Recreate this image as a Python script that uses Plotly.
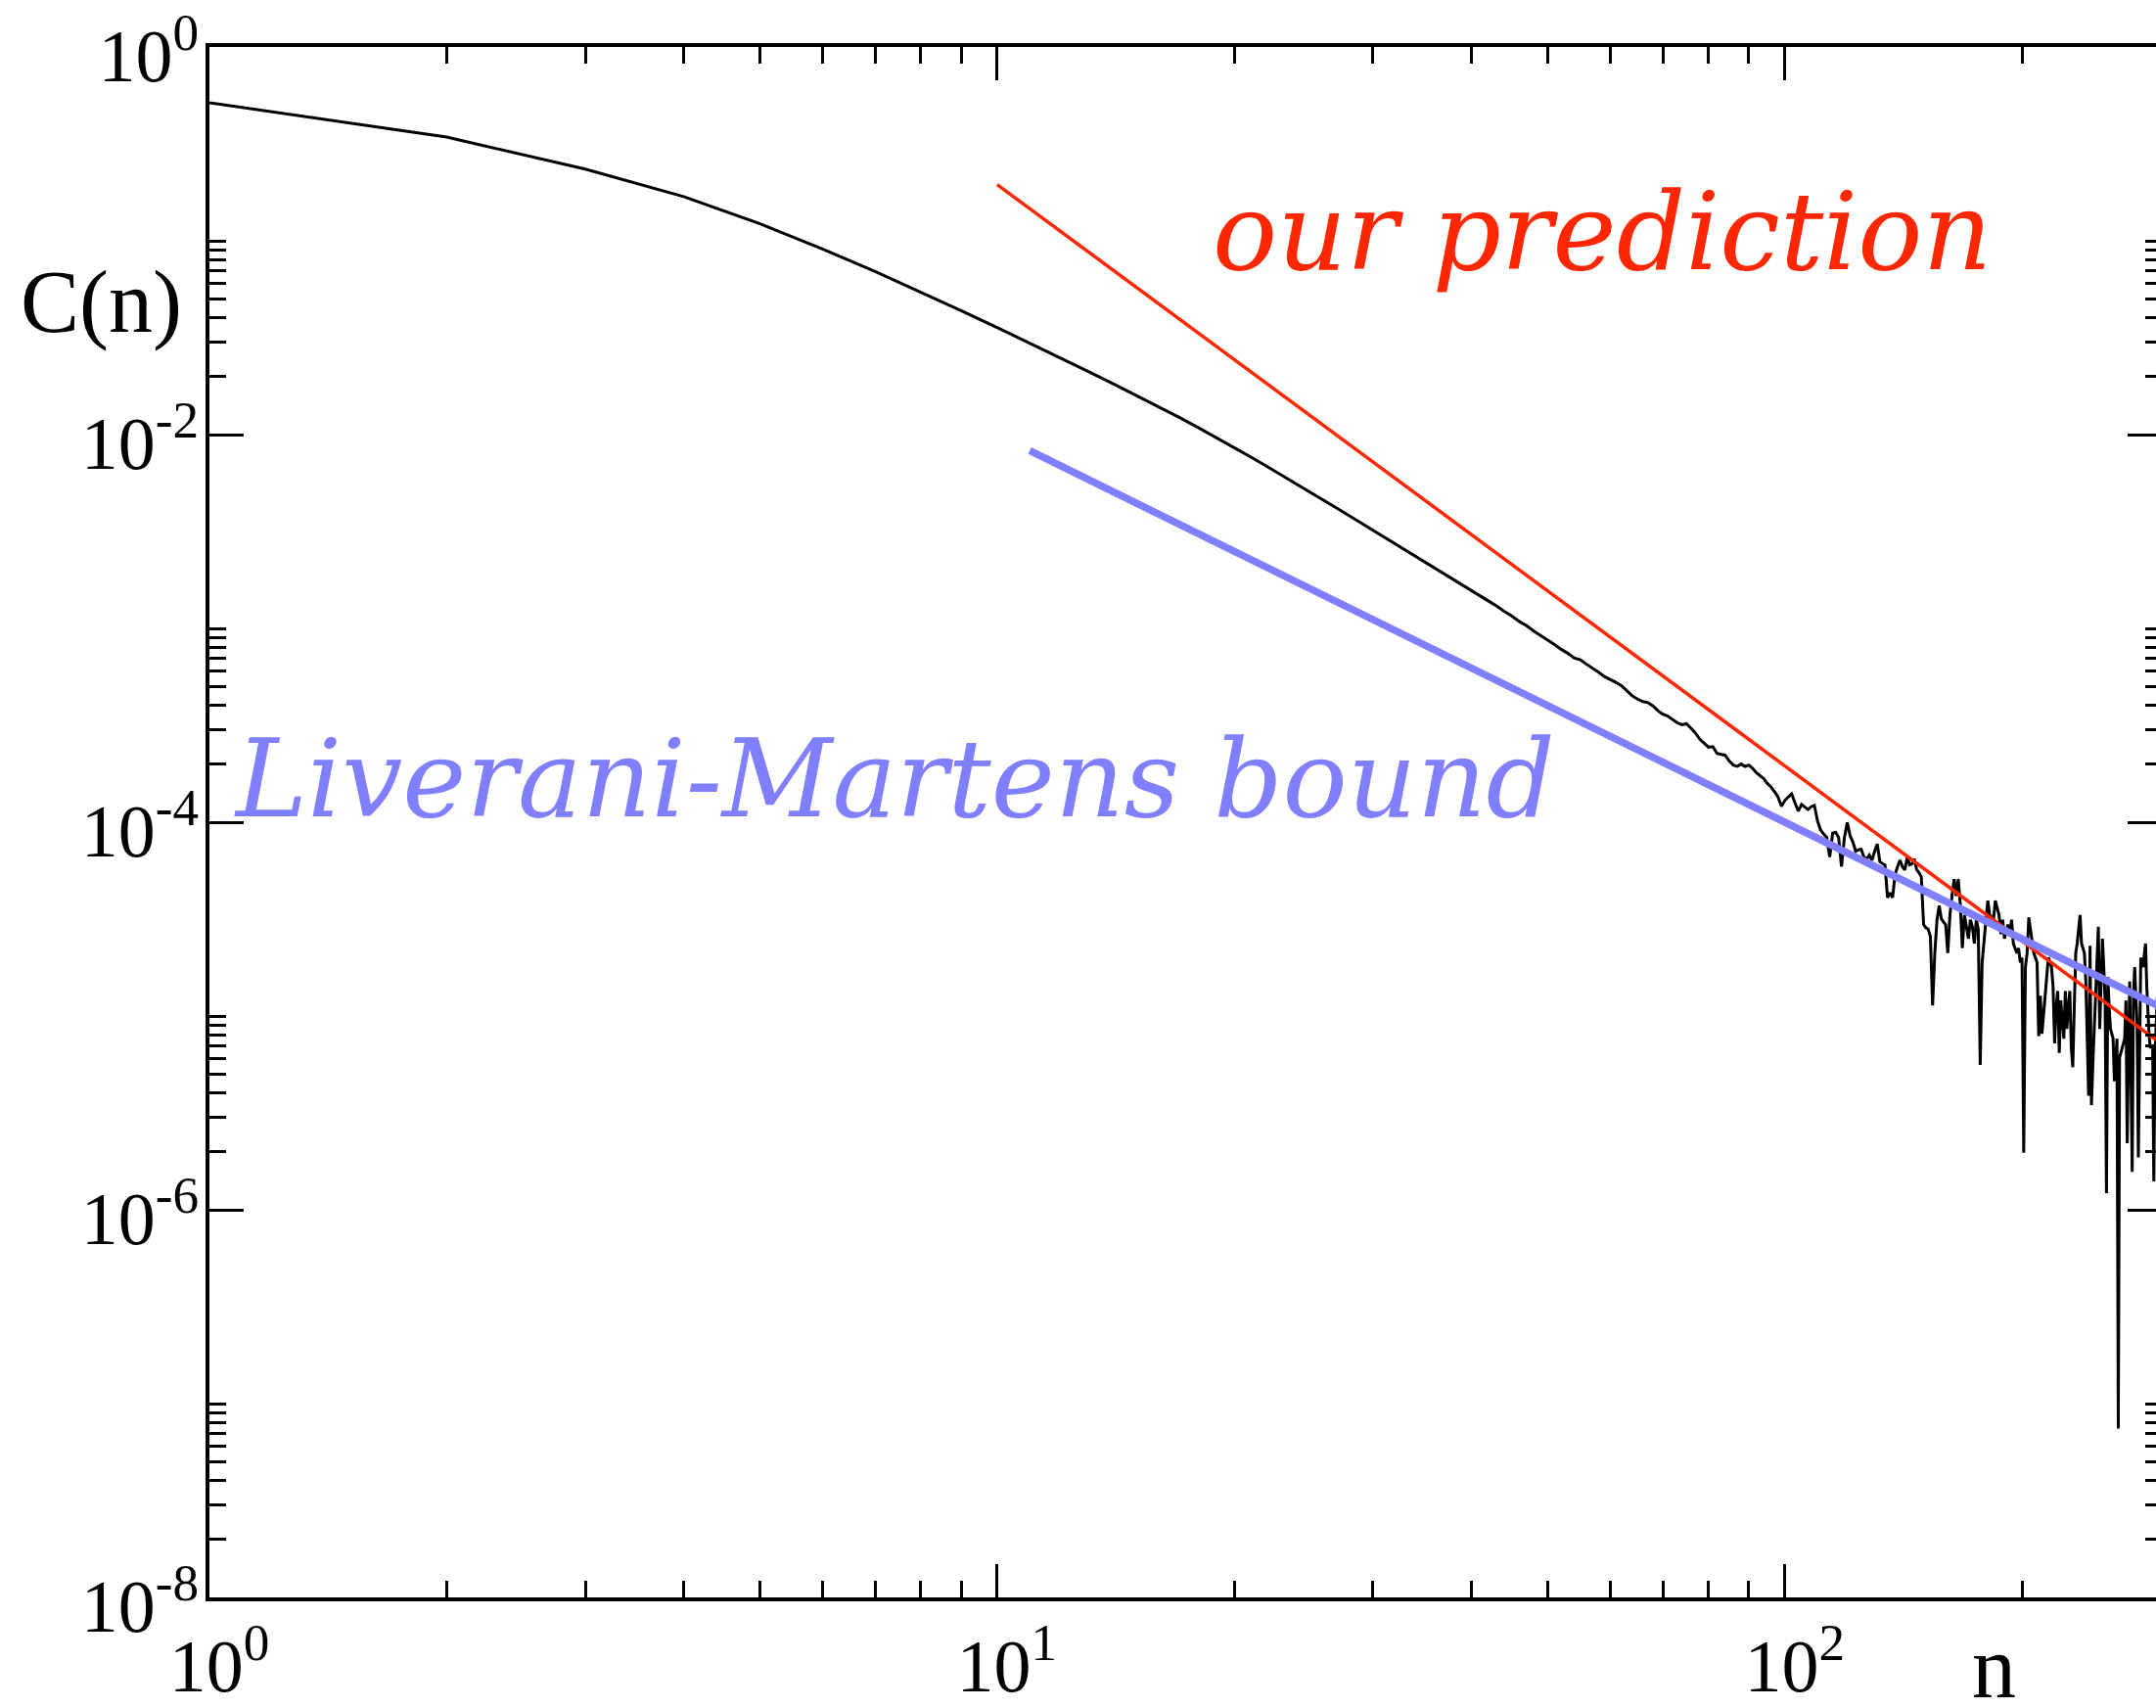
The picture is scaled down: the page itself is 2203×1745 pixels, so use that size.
import plotly.graph_objects as go

# ---- data ----
n_values = list(range(1, 301))
# log10 C(n) for n = 1..300
log10_C = [
    -0.288, -0.465, -0.630, -0.772, -0.912, -1.042, -1.159, -1.265, -1.361, -1.448,   # 1-10
    -1.528, -1.602, -1.671, -1.735, -1.796, -1.854, -1.910, -1.964, -2.016, -2.066,   # 11-20
    -2.116, -2.164, -2.210, -2.255, -2.298, -2.340, -2.380, -2.419, -2.457, -2.493,   # 21-30
    -2.528, -2.562, -2.597, -2.627, -2.659, -2.690, -2.720, -2.749, -2.777, -2.805,   # 31-40
    -2.832, -2.858, -2.883, -2.912, -2.936, -2.964, -2.986, -3.014, -3.036, -3.062,   # 41-50
    -3.083, -3.108, -3.128, -3.152, -3.162, -3.185, -3.204, -3.226, -3.248, -3.262,   # 51-60
    -3.278, -3.295, -3.322, -3.348, -3.365, -3.378, -3.383, -3.400, -3.425, -3.443,   # 61-70
    -3.452, -3.472, -3.487, -3.497, -3.492, -3.515, -3.540, -3.572, -3.595, -3.613,   # 71-80
    -3.610, -3.645, -3.650, -3.655, -3.685, -3.705, -3.712, -3.700, -3.712, -3.705,   # 81-90
    -3.722, -3.745, -3.760, -3.775, -3.800, -3.818, -3.842, -3.870, -3.918, -3.888,   # 91-100
    -3.870, -3.854, -3.900, -3.943, -3.908, -3.920, -3.935, -3.920, -3.913, -3.993,   # 101-110
    -4.040, -4.061, -4.078, -4.179, -4.056, -4.053, -4.078, -4.229, -4.080, -4.002,   # 111-120
    -4.070, -4.103, -4.150, -4.142, -4.140, -4.180, -4.190, -4.170, -4.196, -4.150,   # 121-130
    -4.112, -4.204, -4.212, -4.221, -4.389, -4.364, -4.389, -4.271, -4.230, -4.196,   # 131-140
    -4.230, -4.246, -4.180, -4.220, -4.215, -4.190, -4.245, -4.260, -4.282, -4.528,   # 141-150
    -4.545, -4.552, -4.589, -4.945, -4.675, -4.503, -4.430, -4.500, -4.515, -4.528,   # 151-160
    -4.675, -4.479, -4.380, -4.294, -4.380, -4.294, -4.429, -4.650, -4.479, -4.552,   # 161-170
    -4.601, -4.503, -4.540, -4.626, -4.503, -4.552, -5.252, -4.724, -4.600, -4.503,   # 171-180
    -4.405, -4.479, -4.490, -4.503, -4.405, -4.440, -4.479, -4.577, -4.503, -4.601,   # 181-190
    -4.560, -4.528, -4.589, -4.503, -4.626, -4.650, -4.675, -4.650, -4.724, -4.699,   # 191-200
    -5.706, -4.748, -4.675, -4.491, -4.550, -4.601, -4.675, -4.700, -4.724, -5.104,   # 201-210
    -4.896, -5.092, -4.980, -4.920, -4.773, -4.699, -4.720, -4.748, -4.847, -5.141,   # 211-220
    -4.950, -4.871, -5.190, -4.920, -5.020, -5.117, -4.871, -5.067, -4.950, -4.871,   # 221-230
    -5.166, -5.264, -4.960, -4.675, -4.626, -4.550, -4.479, -4.626, -4.650, -4.675,   # 231-240
    -4.822, -5.166, -5.411, -4.638, -5.460, -5.250, -5.067, -4.900, -4.748, -4.540,   # 241-250
    -5.067, -4.800, -4.601, -4.750, -4.920, -5.914, -4.798, -4.950, -5.067, -5.090,   # 251-260
    -5.117, -5.337, -5.200, -5.117, -7.129, -5.215, -5.190, -5.166, -5.140, -5.117,   # 261-270
    -4.920, -5.656, -5.200, -4.822, -5.300, -5.804, -4.900, -4.748, -4.900, -5.043,   # 271-280
    -5.730, -5.200, -4.699, -4.720, -4.748, -4.680, -4.626, -4.850, -5.018, -5.100,   # 281-290
    -5.166, -5.150, -5.166, -5.853, -5.200, -5.000, -4.900, -5.100, -5.000, -5.200,   # 291-300
]
C_values = [10 ** v for v in log10_C]

# "our prediction" line  ~ n^-3, from n = 10
pred_n = [10, 300]
pred_C = [0.195, 7.22e-6]
# "Liverani-Martens bound" ~ n^-2, from n = 11
bound_n = [11, 300]
bound_C = [8.26e-3, 1.11e-5]

x_tickvals = [1, 10, 100]
x_ticktext = ["10<sup>0</sup>", "10<sup>1</sup>", "10<sup>2</sup>"]
x_minor = [k * 10 ** e for e in (0, 1) for k in range(2, 10)] + [200, 300]

y_tickvals = [1, 1e-2, 1e-4, 1e-6, 1e-8]
y_ticktext = ["10<sup>0</sup>", "10<sup>-2</sup>", "10<sup>-4</sup>",
              "10<sup>-6</sup>", "10<sup>-8</sup>"]
y_minor = [k * 10.0 ** e for e in (-8, -6, -4, -2) for k in range(2, 11)]

RED = "#ff2600"
BLUE = "#7f7fff"
FONT = "Liberation Serif, Times New Roman, serif"

fig = go.Figure()
fig.add_trace(go.Scatter(x=n_values, y=C_values, mode="lines",
                         line=dict(color="black", width=3.0), hoverinfo="skip"))
fig.add_trace(go.Scatter(x=pred_n, y=pred_C, mode="lines",
                         line=dict(color=RED, width=3.5), hoverinfo="skip"))
fig.add_trace(go.Scatter(x=bound_n, y=bound_C, mode="lines",
                         line=dict(color=BLUE, width=7.5), hoverinfo="skip"))
# helper trace so the right-hand tick axis is drawn
fig.add_trace(go.Scatter(x=[10], y=[1e-4], yaxis="y2", mode="markers",
                         marker=dict(opacity=0), hoverinfo="skip"))

W, H = 2203, 1745
L, T, R, B = 213.5, 48, 0, 1745 - 1631.7
x_max_log = (W - L) / 805.1

fig.update_layout(
    width=W, height=H, autosize=False,
    margin=dict(l=L, r=R, t=T, b=B, pad=0, autoexpand=False),
    paper_bgcolor="white", plot_bgcolor="white",
    showlegend=False,
    font=dict(family=FONT, color="black", size=76),
    xaxis=dict(
        type="log", range=[0, x_max_log], automargin=False,
        showgrid=False, zeroline=False,
        showline=True, linecolor="black", linewidth=3.5, mirror="ticks",
        ticks="inside", ticklen=34, tickwidth=3, tickcolor="black",
        tickmode="array", tickvals=x_tickvals, ticktext=x_ticktext,
        tickfont=dict(family=FONT, size=76, color="black"),
        ticklabelstandoff=1, ticklabelshift=10, ticklabeloverflow="allow",
        minor=dict(tickmode="array", tickvals=x_minor, ticks="inside",
                   ticklen=17, tickwidth=3, tickcolor="black", showgrid=False),
    ),
    yaxis=dict(
        type="log", range=[-8, 1e-6], automargin=False,
        showgrid=False, zeroline=False,
        showline=True, linecolor="black", linewidth=3.5, mirror=False,
        ticks="inside", ticklen=35, tickwidth=3, tickcolor="black",
        tickmode="array", tickvals=y_tickvals, ticktext=y_ticktext,
        tickfont=dict(family=FONT, size=76, color="black"),
        ticklabelstandoff=-8, ticklabelshift=8, ticklabeloverflow="allow",
        minor=dict(tickmode="array", tickvals=y_minor, ticks="inside",
                   ticklen=17, tickwidth=3, tickcolor="black", showgrid=False),
    ),
    yaxis2=dict(
        type="log", range=[-8, 1e-6], overlaying="y", side="right", automargin=False,
        showgrid=False, zeroline=False, showline=False,
        ticks="inside", ticklen=29, tickwidth=3, tickcolor="black",
        tickmode="array", tickvals=y_tickvals, showticklabels=False,
        minor=dict(tickmode="array", tickvals=y_minor, ticks="inside",
                   ticklen=11, tickwidth=3, tickcolor="black", showgrid=False),
    ),
)

def px_to_paper_x(px):
    return (px - L) / (W - L - R)

def px_to_paper_y(py):
    return 1 - (py - T) / (H - T - B)

fig.add_annotation(text="C(n)", xref="paper", yref="paper",
                   x=px_to_paper_x(18), y=px_to_paper_y(309),
                   xanchor="left", yanchor="middle", showarrow=False,
                   font=dict(family=FONT, size=90, color="black"))
fig.add_annotation(text="n", xref="paper", yref="paper",
                   x=px_to_paper_x(2037), y=px_to_paper_y(1703),
                   xanchor="center", yanchor="middle", showarrow=False,
                   font=dict(family=FONT, size=90, color="black"))
fig.add_annotation(text="our prediction", xref="paper", yref="paper",
                   x=px_to_paper_x(1637), y=px_to_paper_y(237),
                   xanchor="center", yanchor="middle", showarrow=False,
                   font=dict(family="DejaVu Serif", size=110, color=RED, style="italic"))
fig.add_annotation(text="Liverani-Martens bound", xref="paper", yref="paper",
                   x=px_to_paper_x(914), y=px_to_paper_y(796),
                   xanchor="center", yanchor="middle", showarrow=False,
                   font=dict(family="DejaVu Serif", size=110, color=BLUE, style="italic"))

fig.write_html("out.html")
